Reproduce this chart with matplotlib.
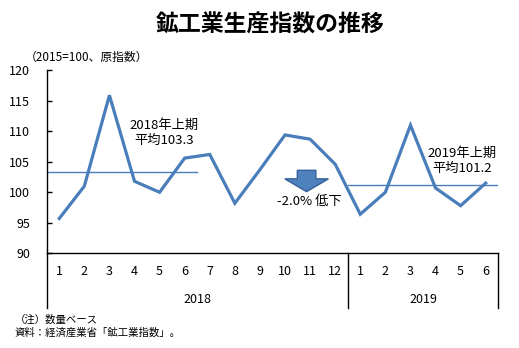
import numpy as np
import matplotlib
matplotlib.use('Agg')
import matplotlib.pyplot as plt
from matplotlib.patches import Polygon

plt.rcParams['font.family'] = ['Noto Sans CJK JP', 'DejaVu Sans']

# monthly index values, Jan 2018 - Jun 2019
months = ['1', '2', '3', '4', '5', '6', '7', '8', '9', '10', '11', '12',
          '1', '2', '3', '4', '5', '6']
years = ['2018', '2019']
year_lengths = [12, 6]
index_values = [95.7, 101.0, 115.9, 101.8, 100.0, 105.6, 106.2, 98.2, 103.7,
                109.4, 108.7, 104.6, 96.4, 100.0, 111.0, 100.7, 97.8, 101.5]
yticks = [90, 95, 100, 105, 110, 115, 120]

blue = '#4a7ebb'

x = np.arange(len(index_values))
vals = np.array(index_values)
avg18 = vals[0:6].mean()
avg19 = vals[12:18].mean()
pct = (round(avg19, 1) / round(avg18, 1) - 1) * 100

fig = plt.figure(figsize=(5.19, 3.48), dpi=100)
ax = fig.add_axes([0.09, 0.2722, 0.870, 0.5259])

ax.plot(x, vals, color=blue, lw=2.3, solid_joinstyle='miter')
# half-year averages
ax.plot([-0.5, 5.5], [avg18, avg18], color=blue, lw=1)
ax.plot([11.5, 17.5], [avg19, avg19], color=blue, lw=1)

ax.set_xlim(-0.5, 17.5)
ax.set_ylim(90, 120)
ax.set_yticks(yticks)
ax.tick_params(axis='y', direction='in', length=3.5, width=1, labelsize=9, pad=12)
ax.set_xticks([])
for s in ['top', 'right']:
    ax.spines[s].set_visible(False)
ax.spines['left'].set_linewidth(1)
ax.spines['bottom'].set_linewidth(1)

# two-level category axis
tr = ax.get_xaxis_transform()
for i, m in enumerate(months):
    ax.text(i, -0.102, m, transform=tr, ha='center', va='center', fontsize=9)
start = 0
for yr, n in zip(years, year_lengths):
    ax.text(start + (n - 1) / 2, -0.255, yr, transform=tr, ha='center', va='center', fontsize=9)
    start += n
edges = np.cumsum([0] + year_lengths) - 0.5
for e in edges:
    ax.plot([e, e], [0, -0.30], transform=tr, color='black', lw=1, clip_on=False)

ax.text(4.18, 109.7, '2018年上期\n平均%.1f' % avg18, ha='center', va='center',
        fontsize=9.5, linespacing=1.25)
ax.text(16.07, 105.1, '2019年上期\n平均%.1f' % avg19, ha='center', va='center',
        fontsize=9.5, linespacing=1.25)

# down arrow between the two averages
cx, top, neck, tip = 9.86, 103.6, 102.2, 100.1
hw, sw = 0.87, 0.37
arrow = Polygon([[cx - sw, top], [cx + sw, top], [cx + sw, neck], [cx + hw, neck],
                 [cx, tip], [cx - hw, neck], [cx - sw, neck]],
                closed=True, facecolor='#4f81bd', edgecolor='#35619a', lw=1)
ax.add_patch(arrow)
ax.text(9.98, 98.45, '%.1f%% 低下' % pct, ha='center', va='center', fontsize=9.5)

fig.text(0.52, 0.928, '鉱工業生産指数の推移', ha='center', va='center',
         fontsize=16.5, fontweight='bold')
fig.text(0.048, 0.834, '（2015=100、原指数）', ha='left', va='center', fontsize=8.5)
fig.text(0.028, 0.080, '（注）数量ベース', ha='left', va='center', fontsize=7.5)
fig.text(0.028, 0.043, '資料：経済産業省「鉱工業指数」。', ha='left', va='center', fontsize=7.5)

fig.savefig('out.png', dpi=100)
